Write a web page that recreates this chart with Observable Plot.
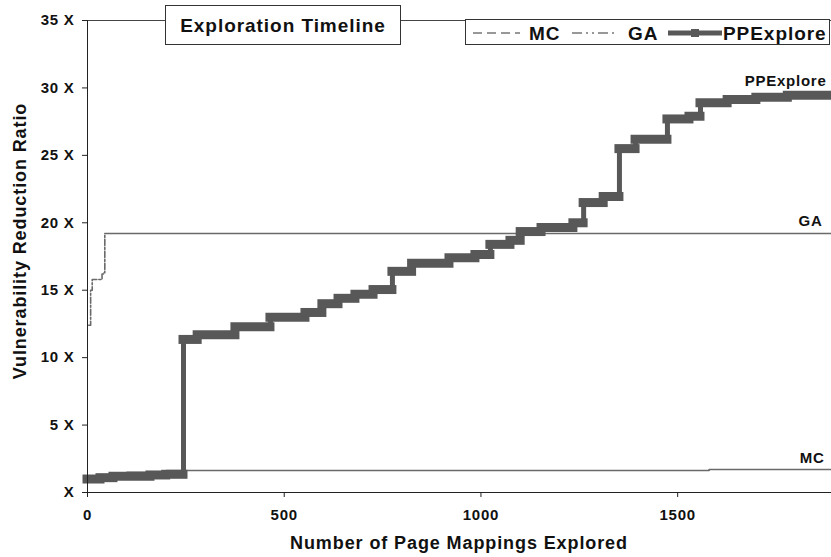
<!DOCTYPE html>
<html><head><meta charset="utf-8">
<script src="https://cdn.jsdelivr.net/npm/d3@7"></script>
<script src="https://cdn.jsdelivr.net/npm/@observablehq/plot@0.6"></script>
<style>
body{margin:0;background:#fff}
svg text{letter-spacing:0.05em}
</style>
</head><body><div id="chart"></div>
<script>
// ---- data ----
const xTicks = [0, 500, 1000, 1500];
const yTicks = [0, 5, 10, 15, 20, 25, 30, 35];

const ppN = [0, 33, 66, 160, 200, 244, 280, 376, 465, 554, 597, 638, 681, 727, 775, 825, 920, 986, 1024, 1075, 1101, 1154, 1235, 1261, 1312, 1352, 1393, 1474, 1530, 1558, 1627, 1700, 1780, 1891];
const ppV = [1.0, 1.1, 1.2, 1.3, 1.35, 11.35, 11.7, 12.3, 13.0, 13.35, 14.0, 14.4, 14.7, 15.05, 16.4, 17.0, 17.4, 17.65, 18.4, 18.7, 19.35, 19.65, 20.0, 21.5, 21.95, 25.5, 26.2, 27.7, 27.9, 28.9, 29.15, 29.3, 29.45, 29.6];

const gaN = [3, 8, 12, 37, 41, 44, 1891];
const gaV = [12.4, 15.0, 15.8, 16.2, 16.3, 19.2, 19.2];

const mcN = [0, 30, 100, 200, 1580, 1891];
const mcV = [1.0, 1.3, 1.5, 1.63, 1.7, 1.7];

const seriesNames = ["MC", "GA", "PPExplore"];

const toRows = (ns, vs) => ns.map((n, i) => ({n, v: vs[i]}));
const pp = toRows(ppN, ppV);
const ga = toRows(gaN, gaV);
const mc = toRows(mcN, mcV);
const gaSplit = 44;
const gaHead = ga.filter(d => d.n <= gaSplit);
const gaTail = ga.filter(d => d.n >= gaSplit);
// horizontal runs of the PPExplore staircase (thick marker band)
const ppRuns = pp.slice(0, -1).map((d, i) => ({n1: d.n, n2: pp[i + 1].n, v: d.v}));

const FONT = "'Liberation Sans', Arial, Helvetica, sans-serif";
const PP_COLOR = "#585858";

const plot = Plot.plot({
  width: 831, height: 557,
  marginLeft: 87, marginRight: 0, marginTop: 20, marginBottom: 65,
  x: {domain: [0, 1891]},
  y: {domain: [0, 35]},
  style: {fontFamily: FONT, fontWeight: "bold", fontSize: "15px", color: "#111", background: "#fff"},
  marks: [
    Plot.ruleY([35], {stroke: "#444", strokeWidth: 1}),
    Plot.line(mc, {x: "n", y: "v", curve: "step-after", stroke: "#6a6a6a", strokeWidth: 1.6}),
    Plot.line(gaHead, {x: "n", y: "v", curve: "step-after", stroke: "#6a6a6a", strokeWidth: 1.6, strokeDasharray: "6,2,2,2"}),
    Plot.line(gaTail, {x: "n", y: "v", stroke: "#6a6a6a", strokeWidth: 1.6}),
    Plot.line(pp, {x: "n", y: "v", curve: "step-after", stroke: PP_COLOR, strokeWidth: 5, strokeLinejoin: "miter"}),
    Plot.ruleY(ppRuns, {x1: "n1", x2: "n2", y: "v", stroke: PP_COLOR, strokeWidth: 9, strokeLinecap: "square"}),
    Plot.ruleX([0], {stroke: "#222"}),
    Plot.ruleY([0], {stroke: "#222"}),
    Plot.axisY(yTicks, {tickFormat: d => d === 0 ? "X" : d + " X", tickSize: 5, tickPadding: 8, label: null, stroke: "#222", fontSize: 15}),
    Plot.axisX(xTicks, {tickFormat: d => String(d), tickSize: 5, tickPadding: 12, label: null, stroke: "#222", fontSize: 15}),
    Plot.text([pp[pp.length - 1]], {x: "n", y: "v", text: () => seriesNames[2], textAnchor: "end", dx: -5, dy: -12, fontSize: 15}),
    Plot.text([gaTail[gaTail.length - 1]], {x: "n", y: "v", text: () => seriesNames[1], textAnchor: "end", dx: -9, dy: -12, fontSize: 15}),
    Plot.text([mc[mc.length - 1]], {x: "n", y: "v", text: () => seriesNames[0], textAnchor: "end", dx: -7, dy: -11, fontSize: 15})
  ]
});
document.getElementById("chart").appendChild(plot);

// ---- decorations: title box, legend, axis titles ----
const svg = d3.select(plot);
const g = svg.append("g").attr("font-family", FONT).attr("font-weight", "bold")
  .attr("fill", "#111").attr("text-anchor", "start");

// title box
g.append("rect").attr("x", 165.5).attr("y", 5.5).attr("width", 235).attr("height", 39)
  .attr("fill", "#fff").attr("stroke", "#333");
g.append("text").attr("x", 283).attr("y", 32).attr("text-anchor", "middle")
  .attr("font-size", 19).text("Exploration Timeline");

// legend box
g.append("rect").attr("x", 465.5).attr("y", 19.5).attr("width", 364).attr("height", 25)
  .attr("fill", "#fff").attr("stroke", "#333");
const ly = 33;
g.append("line").attr("x1", 473).attr("x2", 520).attr("y1", ly).attr("y2", ly)
  .attr("stroke", "#777").attr("stroke-width", 1.6).attr("stroke-dasharray", "9,5");
g.append("text").attr("x", 529).attr("y", ly + 7).attr("font-size", 19).text(seriesNames[0]);
g.append("line").attr("x1", 572).attr("x2", 618).attr("y1", ly).attr("y2", ly)
  .attr("stroke", "#777").attr("stroke-width", 1.6).attr("stroke-dasharray", "10,4,2,4,2,4");
g.append("text").attr("x", 628).attr("y", ly + 7).attr("font-size", 19).text(seriesNames[1]);
g.append("line").attr("x1", 668).attr("x2", 722).attr("y1", ly).attr("y2", ly)
  .attr("stroke", PP_COLOR).attr("stroke-width", 5);
g.append("rect").attr("x", 691).attr("y", ly - 4).attr("width", 8).attr("height", 8).attr("fill", PP_COLOR);
g.append("text").attr("x", 723).attr("y", ly + 7).attr("font-size", 19).text(seriesNames[2]);

// axis titles
g.append("text").attr("x", 459).attr("y", 549).attr("text-anchor", "middle")
  .attr("font-size", 18).text("Number of Page Mappings Explored");
g.append("text").attr("transform", "translate(26,241) rotate(-90)").attr("text-anchor", "middle")
  .attr("font-size", 18).text("Vulnerability Reduction Ratio");
</script>
</body></html>
